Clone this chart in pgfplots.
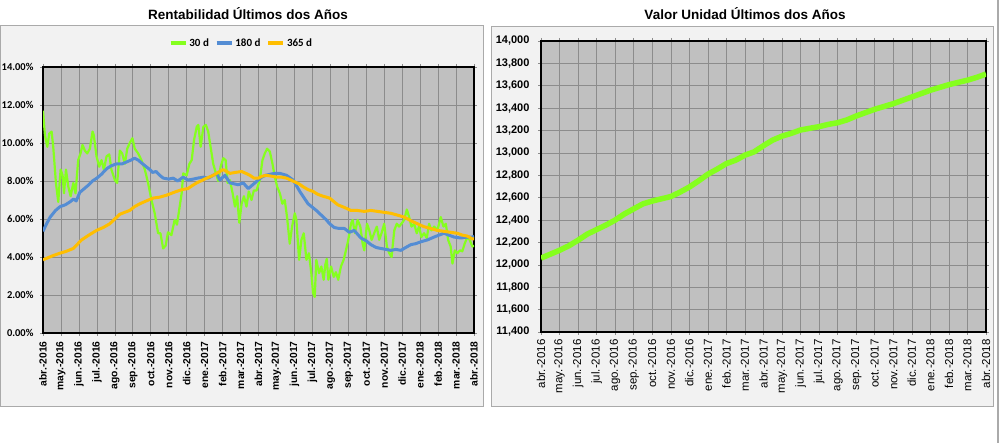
\documentclass[border=0pt]{standalone}
\usepackage{pgfplots}
\pgfplotsset{compat=1.18}
\usepackage{fontspec}
\setmainfont{Liberation Sans}
\newfontfamily\carlito{Carlito}
\definecolor{cGreen}{RGB}{133,255,30}
\definecolor{cBlue}{RGB}{84,141,212}
\definecolor{cOrange}{RGB}{255,190,0}
\definecolor{plotbg}{RGB}{192,192,192}
\definecolor{gridc}{RGB}{140,140,140}
\definecolor{panelbg}{RGB}{242,242,242}
\definecolor{panelbd}{RGB}{170,170,170}
\begin{document}
\begin{tikzpicture}
\path[use as bounding box, fill=white] (0pt,0pt) rectangle (1000pt,443pt);
\draw[panelbd, fill=panelbg, line width=1pt] (0.5pt,36pt) rectangle (483pt,417pt);
\draw[panelbd, fill=panelbg, line width=1pt] (491pt,36pt) rectangle (993pt,416pt);
\draw[panelbd, line width=2pt] (998pt,0pt) -- (998pt,443pt);
\node[font=\bfseries\fontsize{13.5}{14}\selectfont] at (248pt,429pt) {Rentabilidad Últimos dos Años};
\node[font=\bfseries\fontsize{13.5}{14}\selectfont] at (745pt,429pt) {Valor Unidad Últimos dos Años};

\pgfplotsset{
  monthaxis/.style={
    scale only axis,
    xmin=0, xmax=24,
    xtick={0,...,24},
    xticklabels={abr.-2016,may.-2016,jun.-2016,jul.-2016,ago.-2016,sep.-2016,oct.-2016,nov.-2016,dic.-2016,ene.-2017,feb.-2017,mar.-2017,abr.-2017,may.-2017,jun.-2017,jul.-2017,ago.-2017,sep.-2017,oct.-2017,nov.-2017,dic.-2017,ene.-2018,feb.-2018,mar.-2018,abr.-2018},
    axis background/.style={fill=plotbg},
    grid=major,
    major grid style={gridc, line width=0.6pt},
    axis line style={black, line width=1.6pt},
    tick align=outside,
    major tick length=3pt,
    tick style={gridc, line width=0.6pt},
    scaled y ticks=false,
  }
}

\begin{axis}[monthaxis,
  at={(43pt,110pt)}, anchor=south west,
  width=431pt, height=266pt,
  ymin=0, ymax=14,
  ytick={0,2,...,14},
  yticklabels={0.00\%,2.00\%,4.00\%,6.00\%,8.00\%,10.00\%,12.00\%,14.00\%},
  yticklabel style={font=\carlito\bfseries\fontsize{10.5}{11}\selectfont, xshift=-3pt},
  xticklabel style={rotate=90, anchor=east, font=\bfseries\fontsize{10.3}{10}\selectfont, xshift=-2pt},
  legend style={at={(0.5,1)}, anchor=south, yshift=15pt, xshift=-17pt, draw=none, fill=none,
    legend columns=3, font=\carlito\bfseries\fontsize{11}{11}\selectfont,
    /tikz/every even column/.append style={column sep=4pt}},
  legend image code/.code={\draw[#1, line width=3.5pt] (0pt,0pt) -- (15pt,0pt);},
]
\addplot[cGreen, line width=2.2pt, line join=round] coordinates {
(0,11.7)(0.11,10.4)(0.24,9.8)(0.35,10.5)(0.48,10.6)(0.57,9.8)(0.72,7.9)(0.85,6.9)(0.98,8.6)(1.09,8.3)(1.17,7.35)(1.28,8.6)(1.41,7.7)(1.54,7.2)(1.69,7.9)(1.81,7.35)(1.96,9.1)(2.09,9.45)(2.2,9.9)(2.33,9.6)(2.46,9.45)(2.61,9.7)(2.76,10.6)(2.83,10.4)(2.98,9.3)(3.13,8.75)(3.26,9.1)(3.39,8.6)(3.54,9.3)(3.69,9.4)(3.81,8.6)(4.0,8.05)(4.13,7.9)(4.28,9.6)(4.41,9.45)(4.56,8.9)(4.69,9.7)(4.83,10.0)(4.98,10.25)(5.11,9.7)(5.3,9.45)(5.48,9.1)(5.67,8.6)(5.85,7.9)(6.04,7.0)(6.22,6.3)(6.41,5.25)(6.54,5.25)(6.69,4.45)(6.83,4.6)(6.96,5.3)(7.15,5.15)(7.33,5.95)(7.46,5.7)(7.61,6.65)(7.72,7.35)(7.81,8.4)(8.0,8.3)(8.15,8.9)(8.28,9.1)(8.41,10.15)(8.56,10.85)(8.65,10.95)(8.78,9.8)(8.93,10.85)(9.07,10.95)(9.2,10.6)(9.33,9.8)(9.48,8.9)(9.63,8.4)(9.76,8.0)(9.89,8.75)(10.04,9.2)(10.17,9.1)(10.28,7.9)(10.41,8.05)(10.56,7.35)(10.69,6.65)(10.81,7.2)(10.93,5.8)(11.06,6.8)(11.19,7.2)(11.33,6.65)(11.46,7.45)(11.61,7.0)(11.74,7.5)(11.89,7.5)(12.07,8.05)(12.22,9.1)(12.35,9.45)(12.48,9.7)(12.63,9.55)(12.78,8.9)(12.91,8.2)(13.04,7.7)(13.19,7.35)(13.33,6.8)(13.46,7.0)(13.59,6.1)(13.74,4.7)(13.87,5.6)(14.02,6.3)(14.11,5.95)(14.26,3.85)(14.39,4.9)(14.52,5.25)(14.67,3.85)(14.81,4.2)(14.94,3.15)(15.04,2.1)(15.13,1.9)(15.22,3.85)(15.37,3.15)(15.5,3.5)(15.63,2.8)(15.72,3.6)(15.8,3.9)(15.89,2.8)(16.04,3.5)(16.19,2.95)(16.31,3.2)(16.44,2.8)(16.59,3.5)(16.74,3.85)(16.87,4.35)(17.0,4.9)(17.15,5.75)(17.24,5.95)(17.37,5.25)(17.52,5.95)(17.67,5.6)(17.8,4.7)(17.89,4.35)(18.04,5.75)(18.17,5.4)(18.3,4.9)(18.44,5.25)(18.59,5.6)(18.72,4.9)(18.85,5.25)(19.0,5.75)(19.15,4.55)(19.28,4.2)(19.41,4.0)(19.56,5.4)(19.7,5.75)(19.83,5.6)(19.96,5.75)(20.11,5.95)(20.26,6.5)(20.39,6.1)(20.52,5.6)(20.67,5.75)(20.81,5.25)(20.94,5.6)(21.07,5.05)(21.22,5.25)(21.37,5.0)(21.5,5.75)(21.63,5.4)(21.78,5.6)(21.96,5.4)(22.15,6.1)(22.3,5.6)(22.43,5.75)(22.56,4.9)(22.7,4.55)(22.8,3.65)(22.93,4.35)(23.07,4.2)(23.22,4.35)(23.35,4.3)(23.48,4.7)(23.63,5.05)(23.76,4.9)(23.91,4.55)(24.0,4.6)
};
\addlegendentry{30 d}
\addplot[cBlue, line width=3pt, line join=round] coordinates {
(0,5.35)(0.2,5.75)(0.4,6.1)(0.7,6.45)(0.95,6.65)(1.25,6.75)(1.5,6.9)(1.7,7.05)(1.85,6.95)(2.05,7.4)(2.3,7.6)(2.55,7.8)(2.75,8.0)(3.0,8.15)(3.25,8.35)(3.55,8.65)(3.8,8.8)(4.1,8.9)(4.4,8.9)(4.65,9.0)(4.9,9.1)(5.1,9.2)(5.3,9.1)(5.55,8.9)(5.75,8.75)(5.95,8.6)(6.1,8.45)(6.3,8.5)(6.5,8.3)(6.7,8.15)(7.0,8.1)(7.25,8.15)(7.5,8.0)(7.8,8.2)(8.07,8.05)(8.37,8.1)(8.6,8.15)(8.93,8.2)(9.2,8.15)(9.39,8.25)(9.67,8.4)(9.85,8.05)(10.13,8.3)(10.41,7.9)(10.65,7.85)(10.87,7.8)(11.15,7.9)(11.43,7.6)(11.8,7.9)(12.17,8.2)(12.4,8.3)(12.63,8.35)(12.9,8.4)(13.19,8.4)(13.56,8.3)(13.93,8.05)(14.3,7.45)(14.76,6.8)(15.22,6.45)(15.5,6.2)(15.78,5.95)(15.96,5.75)(16.22,5.55)(16.5,5.5)(16.78,5.5)(17.06,5.3)(17.33,5.4)(17.7,5.0)(18.0,4.85)(18.26,4.65)(18.55,4.5)(18.81,4.45)(19.1,4.4)(19.37,4.35)(19.65,4.4)(19.93,4.35)(20.2,4.5)(20.48,4.65)(20.75,4.7)(21.04,4.8)(21.41,4.9)(21.78,5.05)(22.05,5.15)(22.33,5.25)(22.6,5.15)(22.89,5.05)(23.26,5.0)(23.63,5.05)(23.91,5.05)(24,5.1)
};
\addlegendentry{180 d}
\addplot[cOrange, line width=3pt, line join=round] coordinates {
(0,3.85)(0.5,4.05)(0.94,4.2)(1.3,4.3)(1.69,4.45)(2.15,4.9)(2.55,5.15)(2.98,5.4)(3.35,5.55)(3.72,5.75)(4.0,6.0)(4.28,6.25)(4.55,6.35)(4.83,6.45)(5.1,6.65)(5.39,6.8)(5.75,6.95)(6.13,7.1)(6.5,7.15)(6.87,7.25)(7.15,7.35)(7.43,7.45)(7.75,7.55)(8.07,7.6)(8.3,7.75)(8.56,7.9)(9.0,8.1)(9.48,8.3)(9.75,8.45)(10.04,8.6)(10.41,8.4)(10.7,8.45)(11.06,8.5)(11.3,8.4)(11.52,8.3)(11.75,8.15)(11.98,8.15)(12.2,8.25)(12.44,8.3)(12.75,8.25)(13.0,8.2)(13.3,8.2)(13.56,8.15)(13.8,8.05)(14.02,7.95)(14.25,7.85)(14.48,7.7)(14.75,7.55)(15.04,7.45)(15.3,7.3)(15.59,7.2)(15.96,7.1)(16.41,6.75)(16.8,6.6)(17.15,6.45)(17.5,6.45)(17.89,6.4)(18.25,6.45)(18.63,6.4)(19.0,6.35)(19.37,6.3)(19.75,6.2)(20.11,6.1)(20.5,5.9)(20.85,5.75)(21.2,5.6)(21.59,5.5)(21.95,5.4)(22.33,5.35)(22.7,5.3)(23.07,5.25)(23.35,5.15)(23.63,5.1)(23.91,4.95)(24,4.95)
};
\addlegendentry{365 d}
\end{axis}

\begin{axis}[monthaxis,
  at={(541pt,111pt)}, anchor=south west,
  width=445pt, height=291pt,
  ymin=11400, ymax=14000,
  ytick={11400,11600,...,14000},
  yticklabels={{11,400},{11,600},{11,800},{12,000},{12,200},{12,400},{12,600},{12,800},{13,000},{13,200},{13,400},{13,600},{13,800},{14,000}},
  yticklabel style={font=\bfseries\fontsize{11}{11}\selectfont, xshift=-5pt},
  xticklabel style={rotate=90, anchor=east, font=\fontsize{11.5}{11.5}\selectfont, xshift=-1pt},
]
\addplot[cGreen, line width=5.5pt, line join=round] coordinates {
(0,12060)(0.5,12095)(1,12130)(1.5,12170)(2,12220)(2.5,12275)(3,12315)(3.5,12355)(4,12400)(4.5,12455)(5,12500)(5.5,12545)(6,12570)(6.5,12590)(7,12610)(7.5,12650)(8,12695)(8.5,12750)(9,12810)(9.5,12855)(10,12905)(10.5,12935)(11,12980)(11.5,13010)(12,13065)(12.5,13115)(13,13150)(13.5,13175)(14,13205)(14.5,13220)(15,13235)(15.5,13255)(16,13270)(16.5,13295)(17,13330)(17.5,13360)(18,13390)(18.5,13415)(19,13440)(19.5,13470)(20,13500)(20.5,13530)(21,13560)(21.5,13585)(22,13610)(22.5,13630)(23,13650)(23.5,13675)(24,13705)
};
\end{axis}
\end{tikzpicture}
\end{document}
